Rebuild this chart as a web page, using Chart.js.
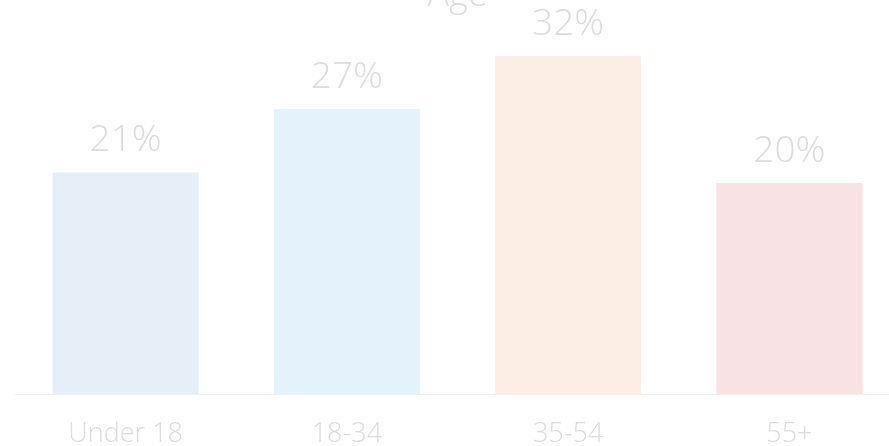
<!DOCTYPE html>
<html>
<head>
<meta charset="utf-8">
<title>Age</title>
<script src="https://cdn.jsdelivr.net/npm/chart.js@4.4.0/dist/chart.umd.min.js"></script>
<style>
  html, body { margin: 0; padding: 0; background: #fff; overflow: hidden; }
  #wrap { position: absolute; left: 0; top: -22px; width: 900px; height: 489px; }
</style>
</head>
<body>
<div id="wrap"><canvas id="ageChart"></canvas></div>
<script>
// Nhóm tuổi và tỉ lệ (%)
const ageGroups = ['Under 18', '18-34', '35-54', '55+'];
const agePercent = [21, 27, 32, 20];
const barColors = ['#e6eef7', '#e4f3fb', '#fdeee5', '#f9e2e4'];

const textColor = '#dcdcdc';
const fontFamily = '"Open Sans", "Helvetica Neue", Arial, sans-serif';

// Ghi số % phía trên mỗi cột
const valueLabels = {
    id: 'valueLabels',
    afterDatasetsDraw(chart) {
        const ctx = chart.ctx;
        const meta = chart.getDatasetMeta(0);
        ctx.save();
        ctx.font = '300 37px ' + fontFamily;
        ctx.fillStyle = textColor;
        ctx.textAlign = 'center';
        ctx.textBaseline = 'alphabetic';
        meta.data.forEach(function (bar, i) {
            ctx.fillText(agePercent[i] + '%', bar.x, bar.y - 21);
        });
        ctx.restore();
    }
};

const ctx = document.getElementById('ageChart').getContext('2d');

new Chart(ctx, {
    type: 'bar',
    data: {
        labels: ageGroups,
        datasets: [{
            data: agePercent,
            backgroundColor: barColors,
            borderWidth: 0,
            barPercentage: 0.66,
            categoryPercentage: 1
        }]
    },
    options: {
        responsive: true,
        maintainAspectRatio: false,
        animation: false,
        layout: {
            padding: { left: 15, right: 0, top: 0, bottom: 0 }
        },
        plugins: {
            legend: { display: false },
            tooltip: { enabled: false },
            title: {
                display: true,
                text: 'Age',
                color: textColor,
                font: { family: fontFamily, size: 36, weight: '300', lineHeight: 1 },
                padding: { top: 0, bottom: 4 }
            }
        },
        scales: {
            x: {
                grid: { display: false },
                border: { display: true, color: '#f0f0f0', width: 1 },
                ticks: {
                    color: textColor,
                    padding: 16,
                    font: { family: fontFamily, size: 27, weight: '300' }
                }
            },
            y: {
                display: false,
                min: 0,
                max: 35.6
            }
        }
    },
    plugins: [valueLabels]
});
</script>
</body>
</html>
